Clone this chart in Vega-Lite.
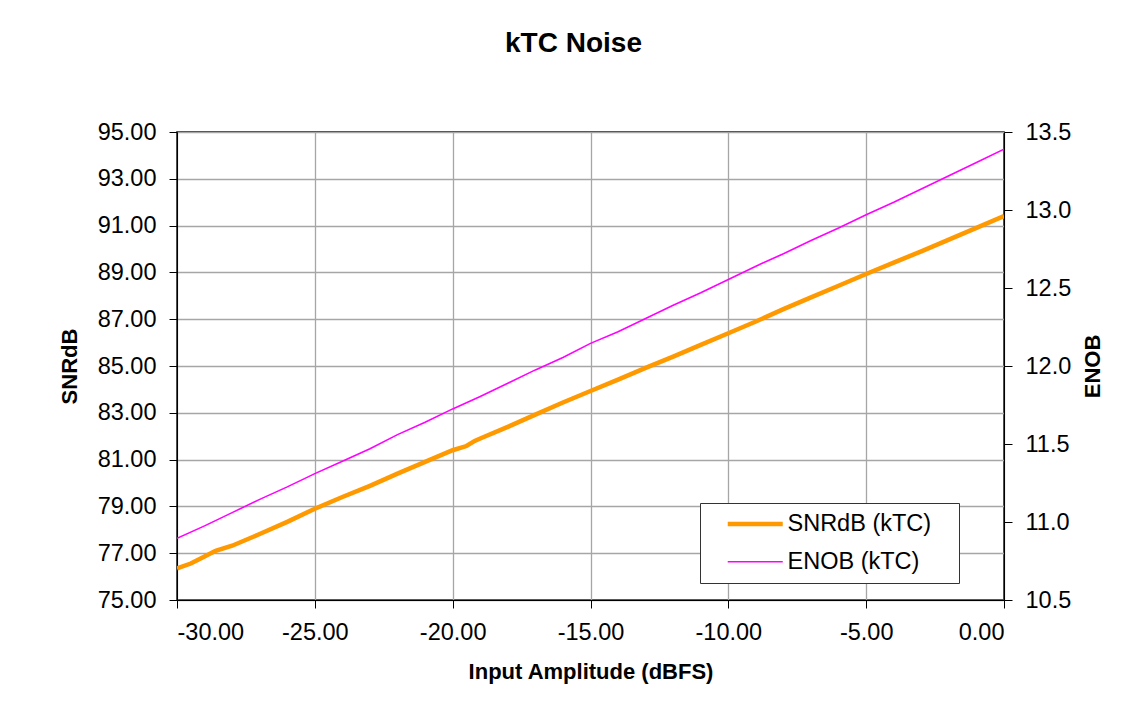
{
  "$schema": "https://vega.github.io/schema/vega-lite/v6.json",
  "autosize": {"type": "none"},
  "padding": {"left": 177, "top": 132, "right": 128, "bottom": 125},
  "width": 827,
  "height": 468,
  "background": "white",
  "title": {"text": "kTC Noise", "fontSize": 28, "font": "Liberation Sans", "fontWeight": "bold", "anchor": "middle", "color": "black", "offset": 40, "baseline": "alphabetic", "dx": -17},
  "config": {
    "font": "Liberation Sans",
    "view": {"stroke": "black", "strokeWidth": 1.5},
    "axis": {"labelFont": "Liberation Sans", "labelFontSize": 23.5, "labelColor": "black", "titleFont": "Liberation Sans", "titleFontSize": 22, "titleFontWeight": "bold", "titleColor": "black", "domainColor": "black", "tickColor": "black", "tickSize": 8, "gridColor": "#a6a6a6", "gridWidth": 1.3},
    "legend": {"orient": "none", "legendX": 523, "legendY": 371, "symbolType": "M0.71,0H6.5", "symbolSize": 361, "labelFont": "Liberation Sans", "labelFontSize": 23.5, "labelColor": "black", "labelOffset": 54.5, "labelLimit": 400, "padding": 9, "rowPadding": 13, "strokeColor": "#333", "fillColor": "white"}
  },
  "data": {"values": [
    {"dBFS": -30, "series": "SNRdB (kTC)", "value": 76.35},
    {"dBFS": -29.5, "series": "SNRdB (kTC)", "value": 76.56},
    {"dBFS": -29, "series": "SNRdB (kTC)", "value": 76.86},
    {"dBFS": -28.6, "series": "SNRdB (kTC)", "value": 77.1},
    {"dBFS": -28, "series": "SNRdB (kTC)", "value": 77.32},
    {"dBFS": -27, "series": "SNRdB (kTC)", "value": 77.82},
    {"dBFS": -26, "series": "SNRdB (kTC)", "value": 78.34},
    {"dBFS": -25, "series": "SNRdB (kTC)", "value": 78.9},
    {"dBFS": -24, "series": "SNRdB (kTC)", "value": 79.4},
    {"dBFS": -23, "series": "SNRdB (kTC)", "value": 79.88},
    {"dBFS": -22, "series": "SNRdB (kTC)", "value": 80.4},
    {"dBFS": -21, "series": "SNRdB (kTC)", "value": 80.9},
    {"dBFS": -20, "series": "SNRdB (kTC)", "value": 81.4},
    {"dBFS": -19.5, "series": "SNRdB (kTC)", "value": 81.58},
    {"dBFS": -19.2, "series": "SNRdB (kTC)", "value": 81.8},
    {"dBFS": -19, "series": "SNRdB (kTC)", "value": 81.9},
    {"dBFS": -18, "series": "SNRdB (kTC)", "value": 82.4},
    {"dBFS": -17, "series": "SNRdB (kTC)", "value": 82.92},
    {"dBFS": -16, "series": "SNRdB (kTC)", "value": 83.44},
    {"dBFS": -15, "series": "SNRdB (kTC)", "value": 83.93},
    {"dBFS": -14, "series": "SNRdB (kTC)", "value": 84.42},
    {"dBFS": -13, "series": "SNRdB (kTC)", "value": 84.92},
    {"dBFS": -12, "series": "SNRdB (kTC)", "value": 85.4},
    {"dBFS": -11, "series": "SNRdB (kTC)", "value": 85.9},
    {"dBFS": -10, "series": "SNRdB (kTC)", "value": 86.4},
    {"dBFS": -9, "series": "SNRdB (kTC)", "value": 86.9},
    {"dBFS": -8, "series": "SNRdB (kTC)", "value": 87.43},
    {"dBFS": -7, "series": "SNRdB (kTC)", "value": 87.93},
    {"dBFS": -6, "series": "SNRdB (kTC)", "value": 88.43},
    {"dBFS": -5, "series": "SNRdB (kTC)", "value": 88.93},
    {"dBFS": -4, "series": "SNRdB (kTC)", "value": 89.42},
    {"dBFS": -3, "series": "SNRdB (kTC)", "value": 89.9},
    {"dBFS": -2, "series": "SNRdB (kTC)", "value": 90.4},
    {"dBFS": -1, "series": "SNRdB (kTC)", "value": 90.9},
    {"dBFS": 0, "series": "SNRdB (kTC)", "value": 91.41},
    {"dBFS": -30, "series": "ENOB (kTC)", "value": 10.895},
    {"dBFS": -29, "series": "ENOB (kTC)", "value": 10.975},
    {"dBFS": -28, "series": "ENOB (kTC)", "value": 11.06},
    {"dBFS": -27, "series": "ENOB (kTC)", "value": 11.145},
    {"dBFS": -26, "series": "ENOB (kTC)", "value": 11.225},
    {"dBFS": -25, "series": "ENOB (kTC)", "value": 11.31},
    {"dBFS": -24, "series": "ENOB (kTC)", "value": 11.39},
    {"dBFS": -23, "series": "ENOB (kTC)", "value": 11.47},
    {"dBFS": -22, "series": "ENOB (kTC)", "value": 11.56},
    {"dBFS": -21, "series": "ENOB (kTC)", "value": 11.64},
    {"dBFS": -20, "series": "ENOB (kTC)", "value": 11.725},
    {"dBFS": -19, "series": "ENOB (kTC)", "value": 11.805},
    {"dBFS": -18, "series": "ENOB (kTC)", "value": 11.89},
    {"dBFS": -17, "series": "ENOB (kTC)", "value": 11.975},
    {"dBFS": -16, "series": "ENOB (kTC)", "value": 12.055},
    {"dBFS": -15, "series": "ENOB (kTC)", "value": 12.145},
    {"dBFS": -14, "series": "ENOB (kTC)", "value": 12.22},
    {"dBFS": -13, "series": "ENOB (kTC)", "value": 12.305},
    {"dBFS": -12, "series": "ENOB (kTC)", "value": 12.39},
    {"dBFS": -11, "series": "ENOB (kTC)", "value": 12.47},
    {"dBFS": -10, "series": "ENOB (kTC)", "value": 12.555},
    {"dBFS": -9, "series": "ENOB (kTC)", "value": 12.64},
    {"dBFS": -8, "series": "ENOB (kTC)", "value": 12.72},
    {"dBFS": -7, "series": "ENOB (kTC)", "value": 12.805},
    {"dBFS": -6, "series": "ENOB (kTC)", "value": 12.885},
    {"dBFS": -5, "series": "ENOB (kTC)", "value": 12.97},
    {"dBFS": -4, "series": "ENOB (kTC)", "value": 13.05},
    {"dBFS": -3, "series": "ENOB (kTC)", "value": 13.135},
    {"dBFS": -2, "series": "ENOB (kTC)", "value": 13.22},
    {"dBFS": -1, "series": "ENOB (kTC)", "value": 13.305},
    {"dBFS": 0, "series": "ENOB (kTC)", "value": 13.39}
  ]},
  "encoding": {
    "x": {"field": "dBFS", "type": "quantitative", "title": "Input Amplitude (dBFS)",
      "scale": {"domain": [-30, 0], "nice": false, "zero": false},
      "axis": {"values": [-30, -25, -20, -15, -10, -5, 0], "labelExpr": "replace(format(datum.value, '.2f'), '\u2212', '-')", "labelPadding": 12, "titlePadding": 18}},
    "color": {"field": "series", "type": "nominal", "title": null,
      "scale": {"domain": ["SNRdB (kTC)", "ENOB (kTC)"], "range": ["#FF9900", "#FF00FF"]},
      "legend": {"labelExpr": "datum.label + '\u2800'"}},
    "strokeWidth": {"field": "series", "type": "nominal", "title": null,
      "scale": {"domain": ["SNRdB (kTC)", "ENOB (kTC)"], "range": [4.5, 1.6]},
      "legend": {"labelExpr": "datum.label + '\u2800'"}}
  },
  "layer": [
    {
      "transform": [{"filter": "datum.series === 'SNRdB (kTC)'"}],
      "mark": {"type": "line", "clip": true},
      "encoding": {
        "y": {"field": "value", "type": "quantitative", "title": "SNRdB",
          "scale": {"domain": [75, 95], "nice": false, "zero": false},
          "axis": {"values": [75, 77, 79, 81, 83, 85, 87, 89, 91, 93, 95], "format": ".2f", "labelPadding": 13, "titleAngle": 270, "titlePadding": 16}}
      }
    },
    {
      "transform": [{"filter": "datum.series === 'ENOB (kTC)'"}],
      "mark": {"type": "line", "clip": true},
      "encoding": {
        "y": {"field": "value", "type": "quantitative", "title": "ENOB",
          "scale": {"domain": [10.5, 13.5], "nice": false, "zero": false},
          "axis": {"orient": "right", "values": [10.5, 11, 11.5, 12, 12.5, 13, 13.5], "format": ".1f", "grid": false, "labelPadding": 13, "titleAngle": 270, "titlePadding": 34}}
      }
    }
  ],
  "resolve": {"scale": {"y": "independent"}}
}
